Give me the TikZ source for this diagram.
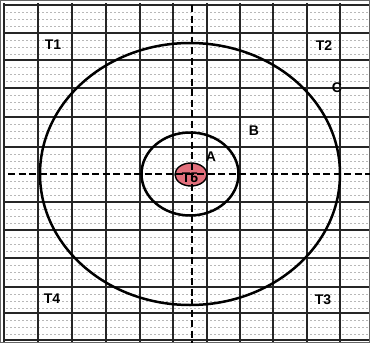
\documentclass[tikz,border=0pt]{standalone}
\usepackage{fontspec}
\setmainfont{Liberation Sans}
\definecolor{spotred}{HTML}{E2707C}
\begin{document}
\begin{tikzpicture}[x=1pt,y=-1pt,every node/.style={font=\fontsize{14}{14}\selectfont\bfseries,inner sep=1pt},
  gridline/.style={line width=1.8pt,black!85},
  texture/.style={line width=1pt,black!28,dash pattern=on 2pt off 2pt},
  axis/.style={line width=2.8pt,dash pattern=on 7pt off 3.5pt},
  ring/.style={line width=2.5pt}]
\useasboundingbox (0,0) rectangle (370,343);
\fill[white] (0,0) rectangle (370,343);
% paper texture
\foreach \y in {5,33,60,88,117,147,174,202,230,258,287,313}
  \foreach \d in {7,14,21}
    \draw[texture] (6,\y+\d) -- (368,\y+\d);
% grid
\foreach \x in {4,38,72,106,140,173,207,240,273,307,340}
  \draw[gridline] (\x,3) -- (\x,343);
\foreach \y in {5,33,60,88,117,147,202,230,258,287,313,340}
  \draw[gridline] (3,\y) -- (370,\y);
\draw[line width=0.8pt,black!60] (0.4,0.4) rectangle (369.6,342.6);
% zones
\coordinate (centre) at (190,174);
\draw[ring] (centre) ellipse[x radius=150,y radius=131];
\draw[ring] (centre) ellipse[x radius=48.5,y radius=41.5];
\draw[line width=1.4pt,fill=spotred] (191,174.5) ellipse[x radius=16,y radius=11.5];
% axes
\coordinate (west) at (8,174);
\coordinate (east) at (370,174);
\coordinate (north) at (192,5);
\coordinate (south) at (192,343);
\draw[axis] (west) -- (east);
\draw[axis] (north) -- (south);
% labels
\node (t1) at (53,45) {T1};
\node (t2) at (324,46) {T2};
\node (t3) at (323,300) {T3};
\node (t4) at (52,299) {T4};
\node (t5) at (190,178) {T5};
\node (a) at (211,157) {A};
\node (b) at (254,131) {B};
\node (c) at (337,88) {C};
\end{tikzpicture}
\end{document}
